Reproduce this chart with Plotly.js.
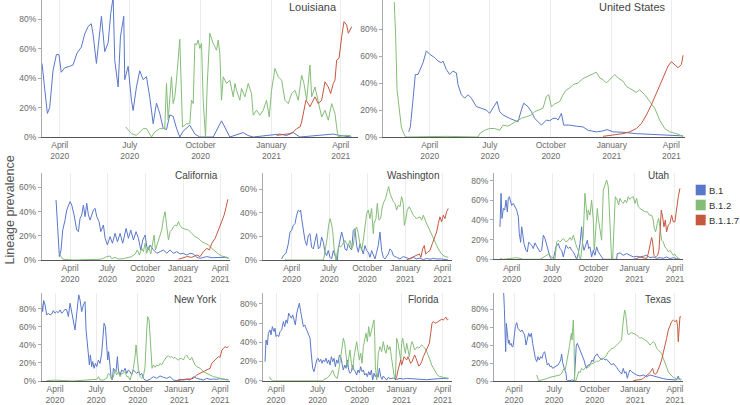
<!DOCTYPE html>
<html>
<head>
<meta charset="utf-8">
<script src="https://cdn.plot.ly/plotly-3.0.1.min.js"></script>
<style>html,body{margin:0;padding:0;background:#fff;}#chart{width:740px;height:405px;}</style>
</head>
<body>
<div id="chart"></div>
<script>
// x values are days since 2020-01-01; y values are lineage prevalence in %
const lineages = ['B.1', 'B.1.2', 'B.1.1.7'];
const panelNames = ['Louisiana', 'United States', 'California', 'Washington', 'Utah', 'New York', 'Florida', 'Texas'];
const tickDays = [91, 182, 274, 366, 456];
const tickLabels = ['April<br>2020', 'July<br>2020', 'October<br>2020', 'January<br>2021', 'April<br>2021'];
const yTickVals = [0, 20, 40, 60, 80];
const yTickLabels = ['0%', '20%', '40%', '60%', '80%'];

// Louisiana
const LA_B1_day = [68,75,78,82.3,86.7,90,93,97.5,104,108.3,113.5,119,123.5,127.8,132,134.3,138.7,141.7,145.2,149.5,153.9,157.3,160.4,162.5,166.9,169.9,174.2,175.5,179.9,184.2,186.4,190.7,195,199.4,203.7,208,212.4,216.7,221,225.4,229.7,234,238.4,242.7,247,251.4,260,266.6,273,281.7,290.4,301.2,307.7,312,329.4,335.8,342.4,364,377,385.7,394.4,403,429,446.4,455,468,470];
const LA_B1_pct = [50,16,20,45,56,56,44,47,48,49,57,61,70,75,77,70,50,67,82,58,64,84,95,52,34,68,82,39,48,25,18,34,45,39,41,27,9,23,16,6,5,15,14,6,0,4,8,2,0,0,0,11,4,0,3,1,0,1,2,1,3,0,1,2,1,0,0];
const LA_B12_day = [176.8,184.2,190.7,199.4,203.7,208,210.2,214.5,221,227.5,229.7,231.9,234,236.2,238.4,240.5,242.7,247,250.5,255.7,260,262.2,264.4,266.6,268.7,270.9,273,275.2,277.4,280.4,282.6,286,290.4,294.7,296.9,299,301.2,303.4,307.7,312,316.4,318.6,320.7,325,327.2,331.6,335.9,340.2,342.4,346.7,351,355.4,359.7,363.2,366.2,370.6,374.9,379.3,383.6,387.9,392.3,396.6,400.9,405.3,408.3,411.8,416.1,418.3,422.6,426.9,431.3,435.6,439.9,444.3,448.6,451.6,452.9,459.4,466,469];
const LA_B12_pct = [6.8,2.3,1.1,5.7,5.7,2.3,0,3.4,5.7,5.7,36.4,11.4,27.3,40.9,22.7,27.3,38.6,66.4,6.8,9,9,25,22.7,63.6,62.5,65.9,60.2,63.6,25,0,35,70.5,63.6,59,65.9,56.8,25,40.9,36.4,38.6,27.3,36.4,31.8,25,33,27.3,36.4,29.5,14.8,18.2,14.8,18.2,25,13.6,31.8,46.6,40.9,38.6,25,22.7,29.5,31.8,25,42,36.4,25,48.9,27.3,34,23.9,13.6,18.2,11.4,22.7,16,3.4,0,1.1,1.1,1];
const LA_B117_day = [372.8,390.1,394.4,398.8,403.1,405.3,408.3,410.9,414,416.1,422.6,426.9,431.3,435.6,439.9,443,446.4,448.6,450.8,453.8,457.3,460.3,463.8,466,470.3];
const LA_B117_pct = [1.1,2.3,3.4,5.7,6.8,10.2,18.2,25,22.7,20.5,27.3,22.7,25,37.5,34,29.5,36.4,38.6,52.3,53.4,68.2,78.4,76.1,70.5,75];

// United States
const US_B1_day = [59.3,61.8,65.8,69.3,73.4,75.9,80.9,86,91,98.6,103.6,108.6,111.1,116.2,121.2,126.2,131.3,133.8,138.8,143.9,148.9,153.9,161.5,169,176.6,181.6,187.7,192.7,196.7,201.8,211.8,219.4,224.4,229.5,233,239.5,244.6,249.6,254.6,259.7,267.2,272.3,277.3,282.3,284.9,289.9,293.4,302.5,312.5,322.6,330.2,342.8,352.8,358.9,368,383,403.2,423.3,443.5,463.6,473.7];
const US_B1_pct = [3.8,7.5,27.5,46.3,46.3,48.8,55,63.8,61.3,58.8,56.3,55,56.3,50,46.3,48.8,47.5,38.8,31.3,28.8,31.3,28.8,22.5,21.3,20,17.5,22.5,26.3,18.8,16.3,13.8,12.5,11.3,20,25,22.5,18.8,13.8,11.3,8.8,12.5,12,13.8,13.8,12.5,17.5,8.8,8.8,8,7.5,5,3.8,4.5,5.5,3.8,3.5,2.5,2,1.5,1.3,0.8];
const US_B12_day = [37.5,39.6,41.7,44.7,48.2,50.7,54.7,116,124,140,164,166.5,174.1,181.6,189.2,196.7,201.8,209.3,216.9,224.4,229.5,237,244.6,249.6,254.6,262.2,267.2,270.8,274.8,279.8,287.4,292.4,297.4,302.5,307.5,315.1,322.6,330.2,337.7,342.8,347.8,352.8,357.9,362.9,370.5,375.5,383,388.1,395.6,403.2,408.2,415.8,423.3,430.9,438.4,446,453.5,463.6,473.7];
const US_B12_pct = [100,75,35,20,7.5,3.8,0,0.5,0.5,0,0,2.5,5,6.3,6.3,5,8.8,8,10,12.5,13.8,15,16.3,18.8,20,21.3,30,31.3,22.5,24.5,26.3,31.3,35,36.3,38.8,40,43.3,45,47,48,43.8,42.5,40,42.5,46.3,43.8,41.3,37.5,35,33,35,31.3,26.3,21.3,12.5,6.3,3.8,2.5,0.5];
const US_B117_day = [352.8,368,383,393.1,403.2,410.7,418.3,425.8,433.4,440.9,446,451,456,461.1,466.1,471.2,473.7];
const US_B117_pct = [0.5,1.3,2.5,3.8,6.3,10,16.3,23.8,32.5,41.3,47.5,52.5,55.8,53.8,51.3,53.8,60.5];

// California
const CA_B1_day = [56.9,65,69.1,73.2,78.8,82.9,91,95.1,100.7,107.2,111.3,115.3,119.4,123.4,127.5,131.6,135.6,139.7,147.8,151.8,155.9,161.6,165.6,172.1,176.2,181.8,188.3,194,200.5,206.2,212.7,219.1,227.3,232.9,238.6,245.1,251.6,257.3,262.9,267.8,273.5,277.5,281.6,285.6,293.8,301.9,310,318.1,326.2,334.3,342.4,350.5,358.6,366.7,374.9,383,391.1,399.2,407.3,415.4,423.5,435.7,447.9,456,468.4,476.2];
const CA_B1_pct = [49.5,2.8,8.3,24.8,33,41.3,48.2,45.4,37.2,24.8,23.4,34.4,37.2,45.4,35.8,46.8,37.2,33,41.3,42.7,35.8,31.7,23.4,28.9,17.9,12.4,19.3,13.8,22,15.1,22,13.8,26.1,17.9,24.8,16.5,23.4,17.9,8.3,16.5,20.6,11,8.3,12.4,8.3,5.5,6.9,8.3,5.5,8.3,5.5,6.9,5,5.5,4.1,5.5,5,2.2,1.4,2.2,2.8,1.9,2.2,1.9,2.2,1.4];
const CA_B12_day = [66.7,73.2,100,160,164,172.1,180.2,188.3,192.4,200.5,208.6,220.8,232.9,241,249.2,254.8,259.7,265.4,269.4,273.5,277.5,281.6,287.3,292.1,295.4,298.6,303.5,308.4,314,318.1,322.1,326.2,330.3,334.3,338.4,342.4,346.5,350.5,354.6,358.6,362.7,370.8,378.9,387,395.1,403.2,411.4,419.5,427.6,435.7,443.8,451.9,460,468.4,476.2];
const CA_B12_pct = [4.1,0.6,0,0,0.6,1.4,2.8,3.3,1.1,2.2,0.8,1.1,2.2,2.8,5,8.3,4.1,9.6,6.9,13.8,5.5,11,5,16.5,20.6,8.3,13.8,17.9,24.8,34.4,39.9,27.5,16.5,23.4,24.8,27.5,28.9,28,31.7,28.5,26.5,25.5,24.8,22,19.3,17.9,15.1,13.8,12.4,9.6,6.9,5,3.3,2.8,1.9];
const CA_B117_day = [354.6,362.7,374.9,387,399.2,407.3,415.4,423.5,430,435.7,443.8,451.9,460,465.8,470.8,474.6];
const CA_B117_pct = [0.6,1.4,2.8,2.2,4.1,2.8,6.9,9.6,8.3,13.8,17.9,24.8,31.7,37.2,44,50.1];

// Washington
const WA_B1_day = [66.8,70.9,77.3,82.9,87,91,95,99.1,103.1,107.1,111.1,112.8,115.2,119.2,123.2,127.3,131.3,135.3,139.3,143.4,147.4,151.4,155.5,159.5,163.5,167.6,171.6,175.6,179.6,183.7,187.7,191.7,195.8,201.4,203.8,207.8,211.9,215.9,219.9,224,228,232,236,240.1,244.1,248.1,252.2,256.2,260.2,264.2,268.3,272.3,276.3,280.4,284.4,288.4,292.5,296.5,300.5,304.5,308.6,312.6,316.6,324.7,328.7,332.7,336.8,344.8,352.9,360.9,369,377.1,385.1,393.2,401.2,409.3,417.3,425.4,433.5,441.5,453.6,465.7,469.7];
const WA_B1_pct = [0.9,3.7,5.7,13.7,23.7,25.1,29.4,30.9,38,42.3,40.9,42.3,35.1,25.1,16.6,12.3,20.9,22.3,10.9,9.4,16.6,22.3,9.4,10.9,19.4,15.1,6.6,3.7,8,2.3,0.9,8,3.7,0,9.4,16.6,23.7,18,9.4,8,13.7,10.3,8.6,25.1,26.6,12.3,6.6,13.7,9.4,5.1,12.3,8,6.6,2.3,8,3.7,0.9,6.6,12.3,23.7,8,2.3,0.9,5.1,9.4,8,3.7,2.3,0.9,2.9,1.7,0.9,2.3,0.9,1.7,0.3,1.4,0.6,1.4,0.9,0.9,0.3,0];
const WA_B12_day = [74.9,79,150,167.6,169.2,174,177.2,180.4,183.7,186.1,190.1,193.3,195.8,198.2,201.4,206.2,209.5,214.3,219.9,224,228,232,236,240.1,244.1,248.1,252.2,256.2,260.2,264.2,268.3,272.3,276.3,280.4,284.4,288.4,290.3,294.9,298.1,302.1,306.1,310.2,314.2,318.2,322.3,325.5,328.7,332.7,336.8,340.8,344.8,348.9,352.9,356.9,360.9,363.4,366.6,370.6,375.4,379.5,385.1,393.2,401.2,405.3,409.3,415.7,421.4,427.8,433.5,439.1,445.6,453.6,461.7,469.7];
const WA_B12_pct = [0.9,0,0,0,2.3,10.9,19.4,29.4,35.1,32.3,25.1,10.9,3.7,0,6.6,12.3,10.9,13.7,16.6,13.7,12.3,16.6,9.4,12.3,25.1,28,22.3,13.7,8,16.6,30.9,39.4,42.3,35.1,43.7,22.3,30.9,35.1,48,33.7,35.1,45.1,49.4,52.3,58,62.3,56.6,53.7,49.4,48,42.3,46.6,45.1,53.7,48,29.4,33.7,42.3,45.1,42.3,38,35.1,36.6,33.7,38,32.3,28,23.7,18,13.7,9.4,5.1,2.9,2.3];
const WA_B117_day = [369,377.1,385.1,393.2,399.6,403.6,407.7,411.7,414.9,419.8,425.4,431,435.9,441.5,445.6,449.6,453.6,457.6,461.7,465.7,469.7];
const WA_B117_pct = [0,1.4,2.3,3.7,5.1,2.3,9.4,12.3,5.1,6.6,8,13.7,19.4,23.7,30.9,36.6,32.3,38,35.1,40.9,43.7];

// Utah
const UT_B1_day = [64.9,67.2,69.4,72.4,75.4,78.3,81.3,83.5,85.8,88.8,91,94.7,98.5,102.2,105.9,108.1,111.1,113.4,115.6,118.6,123,126,129,132,135.7,139.4,143.2,146.9,150.6,154.3,158.1,161.8,165.5,169.2,173,176.7,180.4,184.1,190.1,195.3,199,202.8,206.5,212.5,217.7,221.4,225.1,228.9,232.6,236.3,240,243.8,247.5,249.7,252.7,257.2,260.2,263.1,266.1,269.8,273.6,277.3,281,284.7,288.5,292.2,295.9,325.7,327.2,333.2,340.6,348.1,355.5,363,370.4,377.9,385.3,392.8,400.2,407.7,415.1,422.6,430,437.5,444.9,452.4,459.8,467.3];
const UT_B1_pct = [33,67,41.5,51.7,50,60.2,48.3,61.9,63.6,58.5,54.8,56.8,53.4,50,43.2,26.2,17.3,33,26.2,16,9.2,7.5,17.3,16,14.3,10.9,16.7,13.3,10.9,7.5,9.2,24.5,21.1,14.3,9.2,2.4,0,0,12.6,16,10.9,9.2,2.4,14.3,10.9,12.6,9.2,7.5,4.1,0,5.8,16,33,16,9.2,14.3,19.4,10.9,12.6,2.4,9.2,4.1,12.6,7.5,4.1,2.4,0,0,5.8,6.5,4.1,5.8,4.1,2.4,3.1,2.4,3.1,4.1,1.7,2.4,1,1.7,1,2.4,0.7,1.7,0.7,0];
const UT_B12_day = [64.9,72.4,102.2,109.6,117.1,154.3,165.5,173,180.4,187.9,191.6,195.3,199,202.8,206.5,212.5,217.7,221.4,225.1,228.9,232.6,236.3,240,242.3,245.2,249,251.2,254.9,257.2,260.2,262.4,266.1,269.8,273.6,275.8,279.5,282.5,284.7,288.5,292.2,295.9,299.6,303.4,307.1,310.8,314.5,316.8,319.8,322.7,327.2,330.2,333.2,336.9,340.6,344.4,348.1,351.8,355.5,359.3,363,366.7,370.4,374.2,377.9,383.8,389.1,394.3,398.7,404,407.7,409.9,412.9,416.6,419.6,422.6,426.3,430,433.8,437.5,441.2,444.9,448.7,452.4,456.1,459.8,467.3];
const UT_B12_pct = [0.7,0,1.7,0.7,0,0,3.1,5.1,2.4,0,17.7,19.4,17.7,19.4,21.1,17.7,19.4,22.1,19.4,24.5,17.7,12.6,9.2,2.4,0,19.4,24.5,67,53.4,39.8,50,44.9,60.2,39.8,9.2,33,51.7,41.5,27.9,19.4,70.4,75.5,80.6,73.8,33,0,0,33,63.6,60.2,55.1,61.9,58.5,56.8,60.2,57.5,63.6,60.9,62.9,63.6,56.8,61.9,53.4,51.7,50,48.3,48.3,44.9,44.9,39.8,31.3,27.9,36.4,41.5,33,19.4,17.7,12.6,10.9,7.5,9.2,5.8,4.1,5.1,2.4,0];
const UT_B117_day = [363,370.4,377.9,385.3,392.8,396.5,400.2,404,406.2,409.2,412.9,417.4,420.4,422.6,425.6,428.6,431.5,434.5,437.5,441.2,444.9,448.7,452.4,456.1,459.8,463.6,467.3];
const UT_B117_pct = [0,0.7,2.4,1.7,0.7,5.8,14.3,22.1,17.7,4.1,2.4,4.1,9.2,22.8,50,43.2,33,39.8,27.9,34.7,36.4,44.9,38.1,38.1,53.4,63.6,72.1];

// New York
const NY_B1_day = [61.5,63.7,65.9,68.9,72.6,76.3,79.9,83.6,87.3,91,94.7,98.4,102.1,105.7,109.4,113.1,116.8,120.5,124.2,127.9,131.6,135.2,137.5,140.4,143.4,146.3,150,153.7,157.4,159.6,162.5,164.7,167,169.2,172.1,174.3,177.3,180.2,183.2,186.9,190.6,194.2,196.5,199.4,202.4,205.3,207.5,209.7,212.7,214.9,217.8,220.1,223,225.9,228.9,231.1,234.8,238.5,242.2,245.9,249.6,253.2,256.9,260.6,264.3,268,271.7,275.4,279.1,282.7,286.4,290.1,293.8,301.2,308.5,315.9,323.3,330.7,338,345.4,352.8,360.2,367.5,374.9,382.3,389.7,397,404.4,411.8,419.2,426.5,433.9,441.3,448.7,456,467.1,474.5];
const NY_B1_pct = [86.3,77,89.3,84.4,73.3,75.2,73.3,74.4,78.1,75.2,77,75.9,78.9,75.2,77,79.6,78.9,71.5,86.3,77,67.8,56.7,67.8,78.9,95.6,90,77,84.4,88.1,56.7,38.1,23.3,17.8,28.9,15.9,21.5,14.1,19.6,15.9,23.3,19.6,30.7,49.3,64.1,60.4,34.4,23.3,32.6,14.1,4.8,1.1,14.1,12.2,10.4,27,12.2,6.7,12.2,10.4,14.1,8.5,12.2,10.4,6.7,12.2,10.4,8.5,10.4,6.7,8.5,3,1.1,0.4,1.9,4.8,3,5.6,4.1,3,4.8,1.1,0.4,1.9,1.1,1.9,1.1,4.8,3,1.9,1.1,3,1.9,2.2,1.9,2.6,1.9,1.1];
const NY_B12_day = [72.6,90,110,130,183.2,186.9,190.6,197.9,205.3,209,212.7,216.4,220.1,223.7,227.4,231.1,234.8,238.5,242.2,245.9,249.6,253.2,256.9,260.6,264.3,268,270.2,272.4,275.4,279.1,282.7,286.4,290.1,293.8,296,299,301.2,303.4,305.6,308.5,312.2,315.9,319.6,323.3,327,330.7,334.4,338,341.7,345.4,349.1,352.8,356.5,360.2,363.9,367.5,371.2,374.9,378.6,382.3,386,389.7,393.4,397,400.7,404.4,411.8,419.2,426.5,433.9,441.3,448.7,456,463.4,474.5];
const NY_B12_pct = [0.4,1,0.5,0,1.9,4.8,1.1,1.1,3,8.5,6.7,1.1,4.8,12.2,6.7,10.4,4.8,8.5,8.5,10.4,4.8,4.8,1.1,6.7,14.1,27,40,28.9,14.1,4.8,3,4.8,15.9,56.7,71.5,67.8,49.3,23.3,14.1,17.8,15.2,17.8,16.7,19.6,17.8,21.5,25.2,27,27.8,26.3,27,25.2,26.3,24.1,23.3,24.8,25.2,23.3,27,28.9,25.2,23.3,26.3,21.5,17.8,15.9,14.1,10.4,8.5,6.7,4.8,4.1,3,1.9,1.9];
const NY_B117_day = [360.2,367.5,374.9,382.3,389.7,397,404.4,411.8,419.2,426.5,433.9,437.6,441.3,445,448.7,452.4,456,459.7,463.4,467.1,470.8,474.5];
const NY_B117_pct = [0.4,1.1,1.9,2.2,2.2,3,6.7,8.5,10.4,12.2,14.1,19.6,21.5,23.3,25.2,27,26.3,33.7,36.3,38.1,37,38.1];

// Florida
const FL_B1_day = [66.9,69.1,72,74.2,77.9,80,83,86.6,88.8,91,93.9,96.8,99.8,103.4,107.1,110,112.9,115.8,118.7,121.7,124.6,127.5,130.4,133.3,136.3,139.2,142.1,145,147.9,150.9,153.8,156.7,159.6,162.5,165.5,168.4,171.3,174.2,177.1,180.1,183,185.9,188.8,191.7,194.6,197.6,200.5,203.4,206.3,209.2,212.2,215.1,218,220.9,223.8,226.8,229.7,232.6,235.5,238.4,241.4,244.3,247.2,250.1,253,256,258.9,261.8,264.7,267.6,270.6,273.5,276.4,279.3,282.2,285.2,288.1,291,293.9,296.8,299.8,302.7,305.6,308.5,311.4,314.4,317.3,320.2,323.1,326,329.7,333.3,337,340.6,347.9,355.2,362.5,369.8,377.1,384.4,391.7,399,406.3,413.6,421,428.2,435.5,442.8,450.1,457.4,464.8,468.4];
const FL_B1_pct = [19.8,42.4,37.2,49.4,52.9,47.7,56.3,51.1,54.6,45.9,47.7,45.9,51.1,52.9,61.6,56.3,63.3,59.8,70.3,66.8,65,68.5,63.3,58.1,70.3,75.5,80.7,72,61.6,56.3,58.1,54.6,49.4,47.7,44.2,26.8,12.9,9.4,16.3,21.6,23.3,19.8,22.3,18.1,21.6,19.8,23.3,18.1,21.6,16.3,25,19.8,23.3,14.6,21.6,18.1,26.8,25,18.1,11.1,16.3,12.9,21.6,11.1,7.7,9.4,16.3,11.1,9.4,5.9,11.1,8.3,14.6,9.4,11.1,5.9,7.7,4.2,9.4,5.9,11.1,0.7,7.7,4.2,7,3.5,12.9,4.2,1.4,4.9,2.4,0.7,3.5,2.1,2.8,1.4,2.4,1.7,2.4,2.1,1.7,1.4,1.7,1.4,1,1.4,1.7,2.1,2.1,2.4,2.1,2.1];
const FL_B12_day = [76.4,79.3,85.2,150,194.6,196.1,202,209.2,215.1,220.2,225.3,229.7,232.6,235.5,238.4,241.4,244.3,247.2,250.1,253,256,258.9,261.8,264.7,267.6,270.6,273.5,276.4,279.3,282.2,285.2,288.1,291,293.9,296.8,299.8,302.7,305.6,307.1,308.5,311.4,315.1,318.7,322.4,326,329,331.9,334.8,337.7,340.6,343.6,346.5,349.4,352.3,355.2,358.2,361.1,364,366.2,368.4,371.3,374.2,377.1,380,383,385.9,388.8,391.7,394.6,397.6,400.5,403.4,406.3,410,413.6,417.3,421,424.6,428.2,431.9,435.5,439.2,442.8,446.5,450.1,457.4,464.8,468.4];
const FL_B12_pct = [4.2,1.4,0,0,0,1.4,2.4,5.9,11.1,4.2,2.4,14.6,25,35.5,44.2,39,28.5,14.6,23.3,32,18.1,11.1,25,35.5,40.7,30.3,21.6,28.5,18.1,35.5,44.2,49.4,40.7,56.3,45.9,51.1,58.1,63.3,45.9,14.6,0.7,28.5,35.5,30.3,40.7,32,28.5,37.2,32,35.5,25,14.6,5.9,0.7,44.2,39,32,21.6,39,44.2,35.5,28.5,39,30.3,25,35.5,40.7,37.2,32,33.7,35.5,33.7,35.5,37.2,35.5,33.7,30.3,26.8,21.6,16.3,12.9,9.4,7,4.9,4.2,3.5,2.8,2.8];
const FL_B117_day = [352.3,355.2,358.2,361.1,364,366.2,368.4,371.3,374.2,377.1,380,383,385.9,388.8,391.7,394.6,397.6,400.5,403.4,406.3,410,413.6,417.3,421,424.6,426.8,429.7,432.6,435.5,439.2,442.8,446.5,450.1,453.8,457.4,461.1,463.3,466.2,468.4];
const FL_B117_pct = [0.7,4.2,11.1,18.1,21.6,16.3,19.8,25,23.3,21.6,25,21.6,18.1,19.8,23.3,26.8,23.3,18.1,15.3,16.3,19.8,25,29.2,32,35.5,39,49.4,59.8,61.6,59.8,60.5,61.6,62.6,64,63.3,65,66.1,63.3,64];

// Texas
const TX_B1_day = [65.3,67.6,69.1,70.6,72.1,73.6,75.9,78.2,79.7,81.9,84.2,86.5,88.7,91,94,97,100.1,103.1,106.1,109.1,112.2,115.2,118.2,121.2,124.3,127.3,130.3,133.3,136.4,139.4,142.4,145.4,148.4,151.5,154.5,157.5,160.5,163.6,166.6,169.6,172.6,175.7,178.7,181.7,184.7,187.7,190.8,193.8,196.8,199.1,201.4,204.4,206.6,208.9,210.4,212.7,218,221.8,227.8,230.1,232.3,234.6,237.6,240.7,243.7,246.7,249.7,252.8,255.8,258.8,261.8,264.8,267.9,270.9,273.9,276.9,280,283,286,289.8,293.6,297.4,301.1,304.9,308.7,312.5,316.2,320,323.8,327.6,331.4,335.1,338.9,341.9,345,348,351,354,357.8,361.6,365.4,369.2,376.7,384.3,391.8,399.4,406.9,414.5,422.1,429.6,437.2,444.7,452.3,459.9,463.6,465.9,468.9];
const TX_B1_pct = [98.5,97.8,81,56.9,32.7,64.3,47.6,42,45.7,40.1,42,38.3,38.3,47.6,60.6,65.1,58.7,56.9,55,56.9,53.2,51.3,40.1,47.6,53.2,49.4,53.2,42,32.7,25.3,21.6,27.1,23.4,27.1,25.3,30.9,32.7,23.4,17.8,19.7,16,16.7,14.1,15.2,16,16.7,17.8,20.4,23.4,30.1,20.4,15.2,12.3,8.6,1.1,0.4,0.4,1.1,0.4,27.1,40.1,42,38.3,36.4,32.7,29,23.4,17.8,14.1,17.8,17.8,19.7,23.4,21.6,27.1,29,30.1,27.1,25.3,23.4,25.3,23.4,24.2,21.6,19.7,17.8,19.7,16.7,15.2,12.3,10.4,7.8,14.1,8.6,10.4,3,8.6,12.3,10.4,8.6,7.8,6.7,5.6,6.7,4.8,6.7,5.6,4.1,3,2.6,1.9,1.9,1.5,1.1,5.6,1.9,1.1];
const TX_B12_day = [142.4,144.7,146.9,153.7,157.5,165.1,172.6,180.2,187.7,195.3,199.1,201.4,204.4,207.4,210.4,213.4,216.5,218.7,221,222.5,224,225.5,227.1,228.6,231.6,234.6,237.6,240.7,244.4,248.2,252,255.8,259.6,263.3,267.1,270.9,274.7,278.5,282.2,286,289.8,293.6,297.4,301.1,304.9,308.7,312.5,316.2,320,323.8,327.6,331.4,335.1,337.4,339.7,341.9,344.2,346.5,348.7,351,354,357.8,361.6,365.4,369.2,372.9,376.7,380.5,384.3,388.1,391.8,395.6,399.4,403.2,406.9,410.7,414.5,418.3,422.1,425.8,429.6,433.4,437.2,441,444.7,448.5,452.3,456.1,459.9,467.4,471.2];
const TX_B12_pct = [6.7,1.9,0.4,1.1,1.9,2.6,4.1,4.8,5.6,6.7,8.6,10.4,14.1,13,19.7,29,38.3,47.6,53.2,45.7,64.3,68,45.7,0.4,0.4,6.7,10.4,9.3,14.1,12.3,14.1,16.7,15.2,17.8,19,19.7,20.8,22.3,21.6,23.4,25.3,25.3,26.4,29,32.7,33.8,36.4,36.4,38.3,40.1,42,43.9,45.7,60.6,71.7,79.2,75.5,66.2,53.2,51.3,53.2,53.9,53.2,52,51.3,49.4,47.6,48.3,46.5,45.7,45,42,40.1,42,43.9,42,36.4,34.6,32.7,30.9,25.3,19.7,14.1,10.4,7.8,5.6,4.1,3.3,2.6,2.2,1.9];
const TX_B117_day = [361.6,369.2,376.7,380.5,384.3,388.1,391.8,395.6,399.4,403.2,405.4,408.5,410.7,414.5,418.3,422.1,425.8,429.6,433.4,437.2,441,444.7,448.5,452.3,456.1,459.9,462.1,463.6,465.1,467.4,469.7];
const TX_B117_pct = [0.4,0.7,1.1,1.9,3,4.8,6.7,8.6,9.3,12.3,14.1,8.6,7.4,8.6,12.3,17.8,23.4,30.9,38.3,47.6,56.9,62.5,66.2,68,66.2,68,60.6,43.9,53.2,71.7,71.7];

const lineageColors = ['#5a78c9', '#84bd77', '#c5583f'];

const panelSeries = [
  [[LA_B1_day, LA_B1_pct], [LA_B12_day, LA_B12_pct], [LA_B117_day, LA_B117_pct]],
  [[US_B1_day, US_B1_pct], [US_B12_day, US_B12_pct], [US_B117_day, US_B117_pct]],
  [[CA_B1_day, CA_B1_pct], [CA_B12_day, CA_B12_pct], [CA_B117_day, CA_B117_pct]],
  [[WA_B1_day, WA_B1_pct], [WA_B12_day, WA_B12_pct], [WA_B117_day, WA_B117_pct]],
  [[UT_B1_day, UT_B1_pct], [UT_B12_day, UT_B12_pct], [UT_B117_day, UT_B117_pct]],
  [[NY_B1_day, NY_B1_pct], [NY_B12_day, NY_B12_pct], [NY_B117_day, NY_B117_pct]],
  [[FL_B1_day, FL_B1_pct], [FL_B12_day, FL_B12_pct], [FL_B117_day, FL_B117_pct]],
  [[TX_B1_day, TX_B1_pct], [TX_B12_day, TX_B12_pct], [TX_B117_day, TX_B117_pct]]
];

// layout geometry (pixels in a 740x405 canvas)
const W = 740, H = 405;
const boxes = [
  {l: 42, r: 358, t: 0, b: 137, xr: [68, 478.5], yr: [0, 93.1], tx: 338.5, ty: 7.5, fs: 11},
  {l: 383, r: 685, t: 0, b: 137, xr: [20.5, 476.6], yr: [0, 101.5], tx: 668, ty: 7.5, fs: 11},
  {l: 41.7, r: 230, t: 173.3, b: 260, xr: [22, 480], yr: [0, 71.6], tx: 219.5, ty: 175.7, fs: 10},
  {l: 262.7, r: 451.7, t: 172.7, b: 260, xr: [21, 478], yr: [0, 74], tx: 441, ty: 175.7, fs: 10},
  {l: 494, r: 683.3, t: 172.7, b: 259.3, xr: [51.5, 474.8], yr: [0, 88], tx: 671, ty: 175.7, fs: 10},
  {l: 41.7, r: 230, t: 292.7, b: 381, xr: [61.5, 478], yr: [0, 98], tx: 218.5, ty: 299.3, fs: 10},
  {l: 262.7, r: 451.7, t: 293.3, b: 380.7, xr: [61.8, 475.7], yr: [0, 91], tx: 441, ty: 299.3, fs: 10},
  {l: 494, r: 683.3, t: 292.7, b: 381, xr: [45.6, 475], yr: [0, 98.5], tx: 673, ty: 299.3, fs: 10}
];

const FONT = 'Liberation Sans, Arial, sans-serif';
const traces = [];
const layout = {
  width: W, height: H,
  margin: {l: 0, r: 0, t: 0, b: 0, pad: 0},
  paper_bgcolor: '#ffffff', plot_bgcolor: '#ffffff',
  showlegend: false,
  font: {family: FONT, color: '#666'},
  annotations: [], shapes: []
};

boxes.forEach((bx, i) => {
  const n = i + 1;
  const xid = n === 1 ? 'x' : 'x' + n;
  const yid = n === 1 ? 'y' : 'y' + n;
  layout[n === 1 ? 'xaxis' : 'xaxis' + n] = {
    domain: [bx.l / W, bx.r / W], anchor: yid, range: bx.xr,
    tickmode: 'array', tickvals: tickDays, ticktext: tickLabels,
    showgrid: true, gridcolor: '#ececec', gridwidth: 1,
    showline: true, linecolor: '#555', linewidth: 1,
    zeroline: false, ticks: '', tickfont: {size: 8.5, color: '#6a6a6a', family: FONT},
    fixedrange: true
  };
  layout[n === 1 ? 'yaxis' : 'yaxis' + n] = {
    domain: [1 - bx.b / H, 1 - bx.t / H], anchor: xid, range: bx.yr,
    tickmode: 'array', tickvals: yTickVals, ticktext: yTickLabels,
    showgrid: false, showline: true, linecolor: '#aaa', linewidth: 1,
    zeroline: false, ticks: 'outside', ticklen: 3, tickcolor: '#aaa',
    tickfont: {size: 8.5, color: '#6a6a6a', family: FONT}, fixedrange: true
  };
  panelSeries[i].forEach((s, k) => {
    traces.push({
      type: 'scatter', mode: 'lines', name: lineages[k],
      x: s[0], y: s[1], xaxis: xid, yaxis: yid,
      line: {color: lineageColors[k], width: 1},
      hoverinfo: 'skip', showlegend: false
    });
  });
  layout.annotations.push({
    text: panelNames[i], xref: 'paper', yref: 'paper',
    x: bx.tx / W, y: 1 - bx.ty / H, xanchor: 'right', yanchor: 'middle',
    showarrow: false, font: {size: bx.fs, color: '#444', family: FONT}
  });
});

// y axis title
layout.annotations.push({
  text: 'Lineage prevalence', xref: 'paper', yref: 'paper',
  x: 9.5 / W, y: 1 - 210 / H, xanchor: 'center', yanchor: 'middle',
  textangle: -90, showarrow: false, font: {size: 12.5, color: '#555', family: FONT}
});

// legend (swatch + label per lineage)
const legendTop = [184.7, 199.7, 214.7];
lineages.forEach((name, k) => {
  layout.shapes.push({
    type: 'rect', xref: 'paper', yref: 'paper',
    x0: 695.7 / W, x1: 705.7 / W, y0: 1 - (legendTop[k] + 10.6) / H, y1: 1 - legendTop[k] / H,
    fillcolor: lineageColors[k], line: {width: 0}
  });
  layout.annotations.push({
    text: name, xref: 'paper', yref: 'paper',
    x: 706.5 / W, y: 1 - (legendTop[k] + 5.3) / H, xanchor: 'left', yanchor: 'middle',
    showarrow: false, font: {size: 9.5, color: '#333', family: FONT}
  });
});

Plotly.newPlot('chart', traces, layout, {displayModeBar: false, staticPlot: true});
</script>
</body>
</html>
